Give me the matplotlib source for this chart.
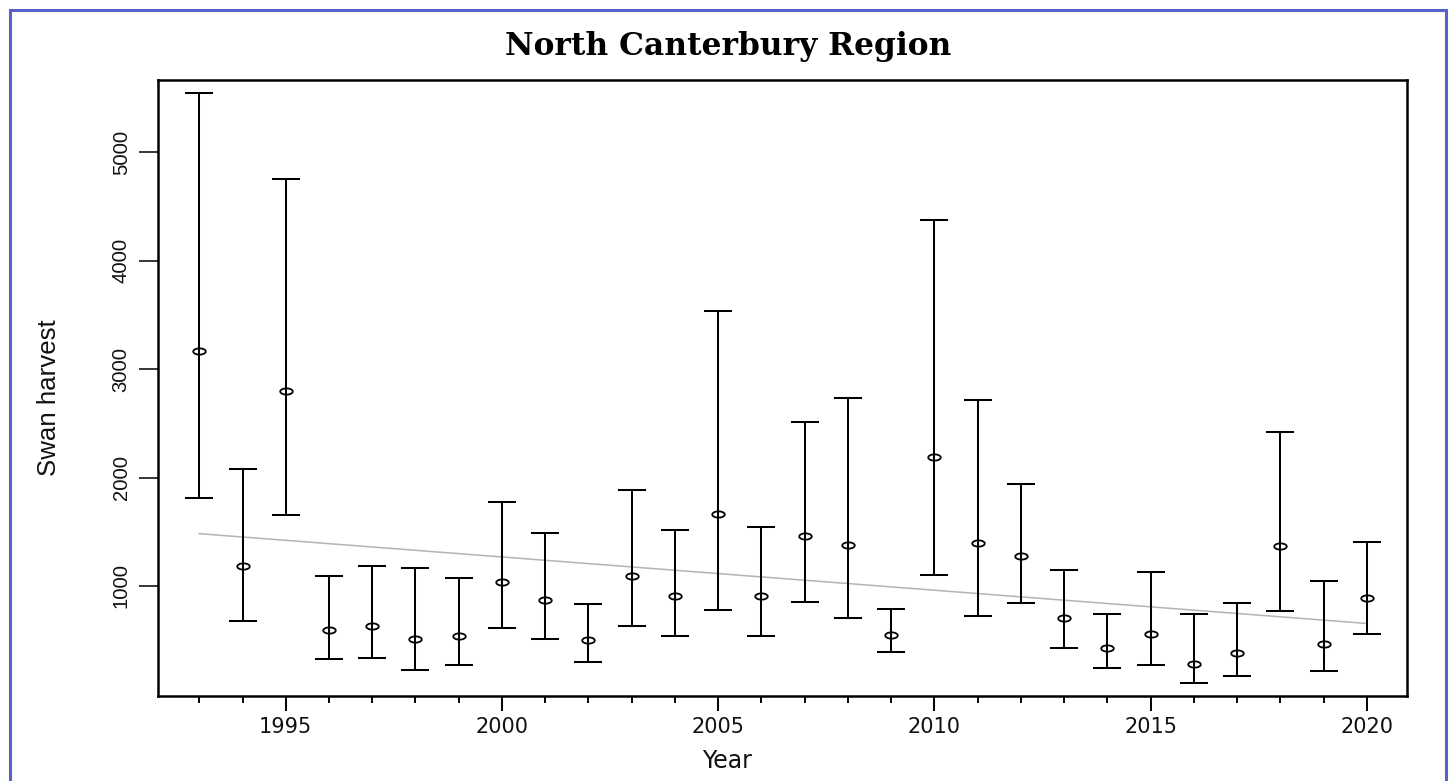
import numpy as np
import matplotlib
matplotlib.use("Agg")
import matplotlib.pyplot as plt
from matplotlib.path import Path
from matplotlib.patches import Rectangle
from matplotlib.ticker import FixedLocator, MultipleLocator

# ---- data ----
years = list(range(1993, 2021))
means = [3170, 1182, 2801, 598, 632, 515, 541, 1039, 873, 500,
         1088, 903, 1663, 906, 1460, 1381, 549, 2191, 1396, 1280,
         707, 424, 553, 278, 383, 1366, 466, 887]
upper = [5546, 2081, 4755, 1091, 1182, 1170, 1076, 1777, 1490, 831,
         1882, 1520, 3535, 1547, 2515, 2729, 790, 4375, 2714, 1938,
         1151, 741, 1125, 741, 846, 2421, 1050, 1408]
lower = [1814, 673, 1652, 326, 338, 225, 274, 609, 511, 301,
         632, 538, 782, 538, 854, 703, 387, 1099, 722, 842,
         428, 240, 274, 104, 169, 767, 214, 560]
trend_years = [1993, 2020]
trend_values = [1482, 654]
x_major_ticks = [1995, 2000, 2005, 2010, 2015, 2020]
y_ticks = [1000, 2000, 3000, 4000, 5000]

title_text = "North Canterbury Region"
xlabel_text = "Year"
ylabel_text = "Swan harvest"

W, H = 1449, 781
fig = plt.figure(figsize=(W / 100, H / 100), dpi=100)
fig.patch.set_facecolor("white")

def fx(px):
    return px / W

def fy(py):
    return 1 - py / H

ax_l, ax_r, ax_t, ax_b = 158, 1407, 80.3, 696
ax = fig.add_axes([fx(ax_l), fy(ax_b), (ax_r - ax_l) / W, (ax_b - ax_t) / H])

m = np.array(means)
yerr = [m - np.array(lower), np.array(upper) - m]

# trend line
ax.plot(trend_years, trend_values, color="#b4b4b4", lw=1.1, zorder=1)

ax.errorbar(years, means, yerr=yerr, fmt="none", ecolor="black",
            elinewidth=1.45, capsize=10.1, capthick=1.45, zorder=2)

theta = np.linspace(0, 2 * np.pi, 60)
ell = Path(np.column_stack([np.cos(theta), 0.5 * np.sin(theta)]), closed=True)
ax.plot(years, means, linestyle="none", marker=ell, ms=9, mfc="none",
        mec="black", mew=1.3, zorder=3)

ax.set_xlim(1992.045, 2020.93)
ax.set_ylim(-15, 5663)

for s in ax.spines.values():
    s.set_linewidth(1.8)
    s.set_color("black")

ax.xaxis.set_major_locator(FixedLocator(x_major_ticks))
ax.xaxis.set_minor_locator(MultipleLocator(1))
ax.set_xticks(x_major_ticks)
ax.set_xticklabels([str(v) for v in x_major_ticks])
ax.tick_params(axis="x", which="major", length=10.8, width=1.4, pad=4,
               labelsize=15, colors="black")
ax.tick_params(axis="x", which="minor", length=5, width=1.4)
for lab in ax.get_xticklabels():
    lab.set_fontfamily("DejaVu Sans")
    lab.set_color("#111111")

ax.set_yticks(y_ticks)
ax.set_yticklabels([str(v) for v in y_ticks], rotation=90, va="center",
                   family="Liberation Sans", fontsize=14.6, color="#111111")
ax.tick_params(axis="y", which="major", length=13.7, width=1.1, pad=6)

fig.text(fx(728), fy(55.5), title_text, ha="center", va="baseline",
         family="DejaVu Serif", weight="bold", fontsize=22.5, color="black")
fig.text(fx(727.5), fy(768.3), xlabel_text, ha="center", va="baseline",
         family="DejaVu Sans", fontsize=17, color="#111111")
fig.text(fx(49), fy(397.5), ylabel_text, ha="center", va="center",
         rotation=90, family="Liberation Sans", fontsize=18.6, color="#111111")

# blue frame around the figure
fig.patches.append(Rectangle((fx(9.5), -0.05), fx(1445.7) - fx(9.5), fy(10.5) + 0.05,
                             transform=fig.transFigure, fill=False,
                             edgecolor="#5762cb", lw=2.2, clip_on=False))

fig.savefig("out.png", dpi=100, facecolor="white")
